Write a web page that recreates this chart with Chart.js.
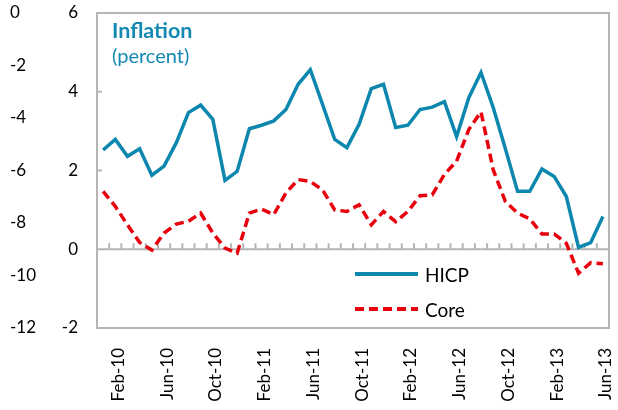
<!DOCTYPE html>
<html>
<head>
<meta charset="utf-8">
<script src="https://cdn.jsdelivr.net/npm/chart.js@4.4.1/dist/chart.umd.min.js"></script>
<style>
  body { margin: 0; background: #fff; }
  #wrap { position: relative; width: 618px; height: 410px; font-family: Lato, "Open Sans", sans-serif; }
  #title { position: absolute; left: 112px; top: 18px; color: #1388b0; font-size: 20px; line-height: 25px; }
  #title b { font-weight: 700; font-size: 21.5px; }
  .leg { position: absolute; left: 355px; height: 24px; font-size: 19px; color: #000; display: flex; align-items: center; }
  .leg svg { margin-right: 7px; }
</style>
</head>
<body>
<div id="wrap">
  <canvas id="chart" width="618" height="410"></canvas>
  <div id="title"><b>Inflation</b><br>(percent)</div>
  <div class="leg" style="top:262px"><svg width="63" height="6"><line x1="0" y1="3" x2="63" y2="3" stroke="#0d87ad" stroke-width="4"/></svg>HICP</div>
  <div class="leg" style="top:297px"><svg width="63" height="6"><line x1="0" y1="3" x2="63" y2="3" stroke="#e8000d" stroke-width="4" stroke-dasharray="9 5"/></svg>Core</div>
</div>
<script>
// ================= DATA =================
const months = [
  "Jan-10", "Feb-10", "Mar-10", "Apr-10", "May-10", "Jun-10", "Jul-10", "Aug-10", "Sep-10", "Oct-10", "Nov-10", "Dec-10",
  "Jan-11", "Feb-11", "Mar-11", "Apr-11", "May-11", "Jun-11", "Jul-11", "Aug-11", "Sep-11", "Oct-11", "Nov-11", "Dec-11",
  "Jan-12", "Feb-12", "Mar-12", "Apr-12", "May-12", "Jun-12", "Jul-12", "Aug-12", "Sep-12", "Oct-12", "Nov-12", "Dec-12",
  "Jan-13", "Feb-13", "Mar-13", "Apr-13", "May-13", "Jun-13"
];
const hicp = [
  2.52, 2.79, 2.36, 2.55, 1.88, 2.11, 2.70, 3.47, 3.66, 3.30, 1.75, 1.98,
  3.06, 3.15, 3.26, 3.55, 4.19, 4.56, 3.68, 2.79, 2.58, 3.17, 4.08, 4.19,
  3.09, 3.15, 3.55, 3.61, 3.75, 2.86, 3.85, 4.49, 3.60, 2.55, 1.47, 1.47,
  2.04, 1.85, 1.34, 0.05, 0.17, 0.83
];
const core = [
  1.47, 1.09, 0.62, 0.17, -0.02, 0.41, 0.64, 0.71, 0.92, 0.41, 0.03, -0.10,
  0.92, 1.02, 0.88, 1.43, 1.77, 1.72, 1.51, 1.00, 0.96, 1.13, 0.62, 0.96,
  0.70, 0.96, 1.36, 1.38, 1.90, 2.24, 3.04, 3.49, 2.02, 1.21, 0.92, 0.77,
  0.39, 0.39, 0.15, -0.61, -0.34, -0.37
];
const leftTicks = { min: -2, max: 6, step: 2 };
const outerTicks = { min: -12, max: 0, step: 2 };

// ================= FRAME / ZERO LINE =================
const framePlugin = {
  id: "frame",
  beforeDatasetsDraw(chart) {
    const { ctx, chartArea: a, scales } = chart;
    ctx.save();
    ctx.strokeStyle = "#b5b5b5";
    ctx.lineWidth = 2;
    ctx.strokeRect(a.left, a.top, a.right - a.left, a.bottom - a.top);

    const y0 = scales.y.getPixelForValue(0);
    ctx.beginPath();
    ctx.moveTo(a.left, y0);
    ctx.lineTo(a.right, y0);
    // small ticks between months on the zero line
    for (let i = 1; i < months.length; i++) {
      const x = (scales.x.getPixelForTick(i - 1) + scales.x.getPixelForTick(i)) / 2;
      ctx.moveTo(x, y0);
      ctx.lineTo(x, y0 - 6);
    }
    // inward ticks on left axis
    scales.y.ticks.forEach(t => {
      const y = scales.y.getPixelForValue(t.value);
      ctx.moveTo(a.left, y);
      ctx.lineTo(a.left + 5, y);
    });
    ctx.stroke();
    ctx.restore();
  }
};

// label overhang padding would shrink the plot, so drop it
function noPad(s) {
  s.paddingTop = 0;
  s.paddingBottom = 0;
  s.paddingLeft = 0;
  s.paddingRight = 0;
}

// ================= CHART =================
const tickFont = { family: "Lato, 'Open Sans', sans-serif", size: 17 };

new Chart(document.getElementById("chart"), {
  type: "line",
  data: {
    labels: months,
    datasets: [
      {
        label: "HICP",
        data: hicp,
        borderColor: "#0d87ad",
        borderWidth: 3.5,
        pointRadius: 0,
        tension: 0,
        yAxisID: "y"
      },
      {
        label: "Core",
        data: core,
        borderColor: "#e8000d",
        borderWidth: 3.5,
        borderDash: [9, 5],
        pointRadius: 0,
        tension: 0,
        yAxisID: "y"
      }
    ]
  },
  options: {
    responsive: false,
    animation: false,
    devicePixelRatio: 1,
    layout: { padding: { left: 10, right: 9, top: 13, bottom: 0 } },
    plugins: { legend: { display: false }, tooltip: { enabled: false } },
    scales: {
      x: {
        offset: true,
        grid: { display: false },
        border: { display: false },
        ticks: {
          autoSkip: false,
          maxRotation: 90,
          minRotation: 90,
          padding: 12,
          labelOffset: 3,
          color: "#000",
          font: tickFont,
          callback: (v, i) => (i % 4 === 1 ? months[i] : "")
        },
        afterFit: s => { s.height = 82; noPad(s); }
      },
      y: {
        position: "left",
        weight: 0,
        min: leftTicks.min,
        max: leftTicks.max,
        grid: { display: false, drawTicks: false },
        border: { display: false },
        ticks: { stepSize: leftTicks.step, padding: 19, color: "#000", font: tickFont },
        afterFit: s => { s.width = 47; noPad(s); }
      },
      y2: {
        position: "left",
        weight: 1,
        min: outerTicks.min,
        max: outerTicks.max,
        grid: { display: false, drawTicks: false },
        border: { display: false },
        ticks: { stepSize: outerTicks.step, crossAlign: "far", color: "#000", font: tickFont },
        afterFit: s => { s.width = 40; noPad(s); }
      }
    }
  },
  plugins: [framePlugin]
});
</script>
</body>
</html>
